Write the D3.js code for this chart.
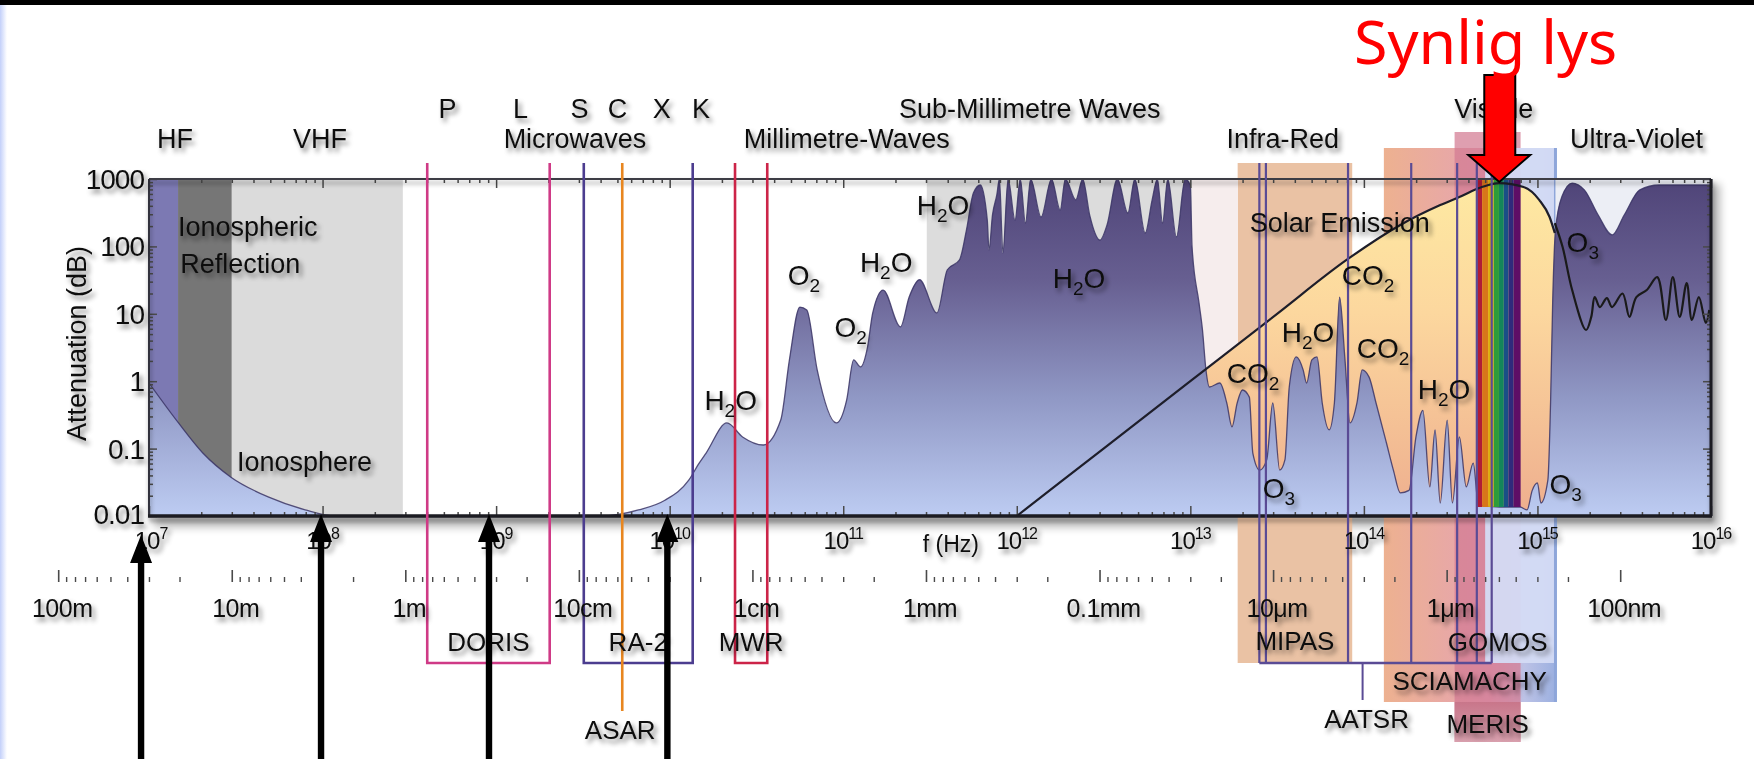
<!DOCTYPE html>
<html>
<head>
<meta charset="utf-8">
<title>Atmospheric attenuation across the electromagnetic spectrum</title>
<script src="https://cdn.jsdelivr.net/npm/d3@7/dist/d3.min.js"></script>
<style>
  html, body { margin: 0; padding: 0; background: #ffffff; }
  svg { display: block; font-family: "Liberation Sans", Arial, sans-serif; }
</style>
</head>
<body>
<svg id="chart" width="1754" height="759"></svg>
<script>
// ---------------------------------------------------------------------------
// Data
// ---------------------------------------------------------------------------
const LIGHT_SPEED = 299792458;

const freqExponents = [7, 8, 9, 10, 11, 12, 13, 14, 15, 16];
const attenuationTicks = [1000, 100, 10, 1, 0.1, 0.01];
const attenuationTickLabels = ["1000", "100", "10", "1", "0.1", "0.01"];
const wavelengthTicksM = [100, 10, 1, 0.1, 0.01, 0.001, 1e-4, 1e-5, 1e-6, 1e-7];
const wavelengthTickLabels = ["100m", "10m", "1m", "10cm", "1cm", "1mm", "0.1mm", "10\u03bcm", "1\u03bcm", "100nm"];

// Zenith attenuation of the atmosphere: [log10(f / Hz), attenuation in dB]
const atmosphericAttenuation = [
  [7.00, 0.94], [7.17, 0.24], [7.31, 0.086], [7.47, 0.038], [7.69, 0.019], [7.90, 0.0123], [8.07, 0.01],
  [9.60, 0.01], [9.82, 0.0123], [9.97, 0.017], [10.11, 0.034], [10.17, 0.061], [10.21, 0.086],
  [10.33, 0.24], [10.42, 0.149], [10.54, 0.113], [10.64, 0.265], [10.69, 2.07], [10.75, 12.6],
  [10.79, 11.4], [10.85, 1.47], [10.96, 0.24], [11.02, 0.53], [11.06, 2.07], [11.10, 1.63],
  [11.14, 3.2], [11.17, 10.3], [11.23, 22.5], [11.33, 6.4], [11.38, 17.7], [11.44, 32],
  [11.54, 10.3], [11.60, 45], [11.67, 63], [11.71, 175], [11.75, 620], [11.79, 815], [11.83, 246],
  [11.84, 89], [11.86, 292], [11.885, 580], [11.90, 1000],
  [11.92, 80], [11.95, 1000], [11.99, 246], [12.02, 1000], [12.05, 222], [12.08, 1000],
  [12.14, 273], [12.20, 1000], [12.25, 347], [12.28, 1000], [12.34, 490], [12.38, 1000],
  [12.42, 292], [12.48, 124], [12.52, 208], [12.58, 1000], [12.64, 313], [12.68, 1000],
  [12.74, 158], [12.78, 490], [12.81, 1000], [12.84, 222], [12.87, 1000], [12.92, 138],
  [12.97, 1000], [13.00, 815], [13.01, 98], [13.05, 14.5], [13.07, 5.75], [13.09, 1.47],
  [13.11, 0.82], [13.17, 0.94], [13.21, 0.475], [13.24, 0.21], [13.27, 0.475], [13.30, 0.74],
  [13.34, 0.58], [13.36, 0.086], [13.40, 0.048], [13.44, 0.068], [13.475, 0.475], [13.515, 0.048],
  [13.545, 0.068], [13.57, 0.82], [13.61, 2.29], [13.65, 1.47], [13.67, 0.94], [13.70, 2.07],
  [13.73, 2.29], [13.76, 0.475], [13.80, 0.19], [13.83, 0.475], [13.86, 17.7], [13.89, 2.29],
  [13.92, 0.24], [13.96, 0.475], [13.99, 1.47], [14.03, 1.15], [14.07, 0.475], [14.13, 0.121],
  [14.17, 0.048], [14.21, 0.022], [14.26, 0.024], [14.30, 0.149], [14.34, 0.37], [14.38, 0.027],
  [14.41, 0.19], [14.44, 0.0156], [14.48, 0.265], [14.51, 0.0156], [14.55, 0.149], [14.59, 0.027],
  [14.63, 0.061], [14.66, 0.0146], [14.78, 0.0136], [14.90, 0.0136], [14.94, 0.0123], [14.97, 0.024],
  [15.00, 0.031], [15.02, 0.0156], [15.06, 0.034], [15.076, 0.53], [15.088, 16], [15.104, 175],
  [15.14, 540], [15.20, 870], [15.27, 690], [15.35, 292], [15.43, 148], [15.50, 292],
  [15.59, 690], [15.70, 815], [16.00, 815]
];

// Solar emission curve on the same axes: [log10(f / Hz), level]
const solarEmission = [
  [12.0, 0.01], [12.5, 0.1], [13.0, 1.0], [13.5, 10], [13.9, 63], [14.21, 208], [14.44, 410],
  [14.55, 540], [14.68, 760], [14.78, 870], [14.92, 760], [15.01, 490], [15.07, 273], [15.10, 158]
];

// Ultra-violet transmission trace: [log10(f / Hz), level]
const uvTransmission = [
  [15.10, 222], [15.145, 98], [15.20, 22.5], [15.28, 5.75], [15.31, 9.0], [15.33, 17.7],
  [15.36, 12.6], [15.40, 17.1], [15.43, 12.6], [15.49, 20], [15.53, 9.0], [15.57, 17.7],
  [15.63, 22.5], [15.69, 35], [15.74, 8.1], [15.78, 35], [15.82, 9.0], [15.86, 28.6],
  [15.89, 8.1], [15.93, 17.7], [15.97, 7.3], [15.99, 11.4]
];

// Shaded frequency ranges behind the curve: [from Hz, to Hz, colour]
const ionosphereBands = [
  [1e7, 1.47e7, "#7c79b3"],
  [1.47e7, 3e7, "#767676"],
  [3e7, 2.9e8, "#dbdbdb"]
];
const submillimetreShadeHz = [3.03e11, 1.02e13];
const infraredGapShadeHz = [1.02e13, 1.88e13];
const ultravioletShadeHz = [1.27e15, 1e16];

// Visible spectrum stripes
const visibleEdgesHz = [4.5e14, 4.8e14, 5.2e14, 5.6e14, 6.0e14, 6.4e14, 6.8e14, 7.3e14, 8.0e14];
const visibleColors = ["#b01c36", "#d8761a", "#dcae0a", "#2e9c3a", "#14865a", "#1a4f86", "#2f2a7c", "#5e0e66"];

// Band names above the plot: [text, log10(f / Hz) of label centre, row]
const bandLabels = [
  ["P", 8.72, 0], ["L", 9.14, 0], ["S", 9.48, 0], ["C", 9.70, 0], ["X", 9.955, 0], ["K", 10.18, 0],
  ["Sub-Millimetre Waves", 12.075, 0], ["Visible", 14.748, 0],
  ["HF", 7.15, 1], ["VHF", 7.985, 1], ["Microwaves", 9.454, 1], ["Millimetre-Waves", 11.02, 1],
  ["Infra-Red", 13.532, 1], ["Ultra-Violet", 15.571, 1]
];

// Absorbing gases: [formula, log10(f / Hz) of left edge, level at baseline]
const gasLabels = [
  ["H2O", 10.20, 0.37], ["O2", 10.68, 26.7], ["O2", 10.95, 4.5], ["H2O", 11.096, 41.7],
  ["H2O", 11.424, 292], ["H2O", 12.207, 24.2], ["CO2", 13.21, 0.94], ["H2O", 13.527, 3.8],
  ["CO2", 13.872, 26.7], ["CO2", 13.959, 2.2], ["H2O", 14.31, 0.54], ["O3", 13.417, 0.0185],
  ["O3", 15.07, 0.021], ["O3", 15.168, 82.6]
];

// Region names inside the plot: [text, log10(f / Hz) of left edge, level at baseline]
const regionLabels = [
  ["Ionospheric", 7.167, 143], ["Reflection", 7.18, 40], ["Ionosphere", 7.507, 0.047],
  ["Solar Emission", 13.342, 164]
];

// Envisat instruments
const radarInstruments = [
  { name: "DORIS", lowHz: 4.01e8, highHz: 2.036e9, color: "#cf3a86" },
  { name: "RA-2", lowHz: 3.2e9, highHz: 1.3575e10, color: "#4c3d8f" },
  { name: "MWR", lowHz: 2.38e10, highHz: 3.65e10, color: "#cc2448" }
];
const asarHz = 5.331e9;
const aatsrChannelsUm = [12, 11, 3.7, 1.6, 0.87, 0.67, 0.55];
const aatsrLabelUm = 3.05;
const opticalInstruments = [
  { name: "MIPAS", longUm: 16, shortUm: 3.5 },
  { name: "SCIAMACHY", longUm: 2.3, shortUm: 0.236 },
  { name: "MERIS", longUm: 0.9, shortUm: 0.375 },
  { name: "GOMOS", longUm: 0.6, shortUm: 0.236 }
];

// Frequencies marked with upward arrows below the axes
const pointerHz = [9.0e6, 9.8e7, 9.1e8, 9.7e9];
const visiblePeakHz = 10 ** 14.78;

// ---------------------------------------------------------------------------
// Layout
// ---------------------------------------------------------------------------
const P = { left: 149, right: 1711, top: 179, bottom: 516 };
const BAND_ROW_Y = [118, 148];
const WAVE_AXIS_Y = 582;
const BOX_LAYOUT = {
  MIPAS:     { top: 163, bottom: 663, labelY: 650, fill: "#e9bf9f", opacity: 0.95 },
  SCIAMACHY: { top: 148, bottom: 702, labelY: 690, fill: "url(#sciaGrad)", opacity: 1 },
  MERIS:     { top: 132, bottom: 742, labelY: 733, fill: "#d27a92", opacity: 0.72 },
  GOMOS:     { top: 148, bottom: 663, labelY: 651, fill: "#d4dbf4", opacity: 0.95 }
};
const POINTER_TIPS = [535, 514, 514, 514];
const FONT = "'Liberation Sans', Arial, sans-serif";

const x = d3.scaleLog().domain([1e7, 1e16]).range([P.left, P.right]);
const y = d3.scaleLog().domain([0.01, 1000]).range([P.bottom, P.top]).clamp(true);
const umToHz = um => LIGHT_SPEED / (um * 1e-6);
const lx = d => x(10 ** d[0]);
const ly = d => y(d[1]);

const svg = d3.select("#chart");
const defs = svg.append("defs");

// ---------------------------------------------------------------------------
// Gradients, filters, clip
// ---------------------------------------------------------------------------
function vGrad(id, y1, y2, stops) {
  const g = defs.append("linearGradient").attr("id", id)
    .attr("gradientUnits", "userSpaceOnUse").attr("x1", 0).attr("x2", 0).attr("y1", y1).attr("y2", y2);
  stops.forEach(([o, c]) => g.append("stop").attr("offset", o).attr("stop-color", c));
}
function hGrad(id, x1, x2, stops) {
  const g = defs.append("linearGradient").attr("id", id)
    .attr("gradientUnits", "userSpaceOnUse").attr("x1", x1).attr("x2", x2).attr("y1", 0).attr("y2", 0);
  stops.forEach(([o, c]) => g.append("stop").attr("offset", o).attr("stop-color", c));
}
vGrad("attGrad", P.top, P.bottom, [[0, "#4f4478"], [0.3, "#675f91"], [0.65, "#9098c5"], [1, "#bdccf2"]]);
vGrad("solarGrad", P.top, P.bottom, [[0, "#feeaa2"], [0.4, "#fcd79e"], [1, "#eeae8e"]]);
hGrad("sciaGrad", x(umToHz(2.3)), x(umToHz(0.236)),
  [[0, "#edb190"], [0.4, "#e8a8a6"], [0.62, "#e2a6bc"], [0.82, "#bcc2e6"], [1, "#9cb0e0"]]);
hGrad("edgeGrad", 0, 7, [[0, "#c3d0fa"], [1, "#ffffff"]]);
vGrad("merisFade", 702, 742, [[0, "#c8768a"], [1, "#d9a0ae"]]);

function shadowFilter(id, blur, dx, dy, opacity) {
  const f = defs.append("filter").attr("id", id)
    .attr("x", "-10%").attr("y", "-30%").attr("width", "130%").attr("height", "180%");
  f.append("feGaussianBlur").attr("in", "SourceAlpha").attr("stdDeviation", blur).attr("result", "blur");
  f.append("feOffset").attr("in", "blur").attr("dx", dx).attr("dy", dy).attr("result", "off");
  f.append("feFlood").attr("flood-color", "#000").attr("flood-opacity", opacity).attr("result", "col");
  f.append("feComposite").attr("in", "col").attr("in2", "off").attr("operator", "in").attr("result", "sh");
  const m = f.append("feMerge");
  m.append("feMergeNode").attr("in", "sh");
  m.append("feMergeNode").attr("in", "SourceGraphic");
}
shadowFilter("soft", 2.6, 3, 4, 0.5);
shadowFilter("lineShadow", 2, 1, 4, 0.35);
defs.append("filter").attr("id", "blurBox").attr("x", "-5%").attr("y", "-10%").attr("width", "110%").attr("height", "120%")
  .append("feGaussianBlur").attr("stdDeviation", 4);

defs.append("clipPath").attr("id", "plotClip").append("rect")
  .attr("x", P.left).attr("y", P.top).attr("width", P.right - P.left).attr("height", P.bottom - P.top);

// ---------------------------------------------------------------------------
// Page furniture
// ---------------------------------------------------------------------------
svg.append("rect").attr("x", 0).attr("y", 0).attr("width", 1754).attr("height", 759).attr("fill", "#ffffff");
svg.append("rect").attr("x", 0).attr("y", 5).attr("width", 7).attr("height", 754).attr("fill", "url(#edgeGrad)");
svg.append("rect").attr("x", 0).attr("y", 0).attr("width", 1754).attr("height", 5).attr("fill", "#000000");

// Plot drop shadow
svg.append("rect").attr("x", P.left + 5).attr("y", P.top + 5)
  .attr("width", P.right - P.left + 4).attr("height", P.bottom - P.top + 6)
  .attr("fill", "#000").attr("opacity", 0.28).attr("filter", "url(#blurBox)");
svg.append("rect").attr("x", P.left).attr("y", P.top)
  .attr("width", P.right - P.left).attr("height", P.bottom - P.top).attr("fill", "#ffffff");

// ---------------------------------------------------------------------------
// Optical instrument boxes (behind the curves)
// ---------------------------------------------------------------------------
const boxG = svg.append("g");
opticalInstruments.forEach(inst => {
  const L = BOX_LAYOUT[inst.name];
  const x0 = x(umToHz(inst.longUm)), x1 = x(umToHz(inst.shortUm));
  boxG.append("rect").attr("x", x0).attr("y", L.top).attr("width", x1 - x0).attr("height", L.bottom - L.top)
    .attr("fill", L.fill).attr("opacity", L.opacity);
  if (inst.name === "MERIS") {
    boxG.append("rect").attr("x", x0).attr("y", 702).attr("width", x1 - x0).attr("height", 40)
      .attr("fill", "url(#merisFade)");
  }
});
{
  const xr = x(umToHz(0.236));
  boxG.append("line").attr("x1", xr).attr("x2", xr).attr("y1", 148).attr("y2", 702)
    .attr("stroke", "#8ea6da").attr("stroke-width", 3);
}

// ---------------------------------------------------------------------------
// Plot interior
// ---------------------------------------------------------------------------
const plot = svg.append("g").attr("clip-path", "url(#plotClip)");

ionosphereBands.forEach(([a, b, c]) => {
  plot.append("rect").attr("x", x(a)).attr("y", P.top).attr("width", x(b) - x(a))
    .attr("height", P.bottom - P.top).attr("fill", c);
});
[[submillimetreShadeHz, "#dcdcdc"], [infraredGapShadeHz, "#f6eded"], [ultravioletShadeHz, "#eceef5"]]
  .forEach(([[a, b], c]) => {
    plot.append("rect").attr("x", x(a)).attr("y", P.top).attr("width", x(b) - x(a))
      .attr("height", P.bottom - P.top).attr("fill", c);
  });

const solarArea = d3.area().x(lx).y0(P.bottom).y1(ly).curve(d3.curveMonotoneX);
const attArea = d3.area().x(lx).y0(P.bottom).y1(ly).curve(d3.curveMonotoneX);
const smoothLine = d3.line().x(lx).y(ly).curve(d3.curveMonotoneX);

plot.append("path").datum(solarEmission).attr("d", solarArea).attr("fill", "url(#solarGrad)");
plot.append("path").datum(atmosphericAttenuation).attr("d", attArea).attr("fill", "url(#attGrad)");
plot.append("path").datum(atmosphericAttenuation).attr("d", smoothLine)
  .attr("fill", "none").attr("stroke", "#3b3566").attr("stroke-width", 1.3).attr("stroke-opacity", 0.85);

// Visible spectrum
visibleColors.forEach((c, i) => {
  const a = x(visibleEdgesHz[i]), b = x(visibleEdgesHz[i + 1]);
  plot.append("rect").attr("x", a).attr("y", P.top).attr("width", b - a)
    .attr("height", y(0.0136) - P.top).attr("fill", c);
});

plot.append("path").datum(solarEmission).attr("d", smoothLine)
  .attr("fill", "none").attr("stroke", "#1e1e2a").attr("stroke-width", 2.2);
plot.append("path").datum(uvTransmission)
  .attr("d", d3.line().x(lx).y(ly).curve(d3.curveCatmullRom.alpha(0.5)))
  .attr("fill", "none").attr("stroke", "#1a1a1a").attr("stroke-width", 2.2);

// ---------------------------------------------------------------------------
// Frame and ticks
// ---------------------------------------------------------------------------
const majorHz = freqExponents.map(e => 10 ** e);
const minorHz = [];
freqExponents.slice(0, -1).forEach(e => { for (let m = 2; m <= 9; m++) minorHz.push(m * 10 ** e); });
const minorDb = [];
[-2, -1, 0, 1, 2].forEach(e => { for (let m = 2; m <= 9; m++) minorDb.push(m * 10 ** e); });

function tickAxis(axis, values, size, transform, width) {
  const g = svg.append("g").attr("transform", transform)
    .call(axis.tickValues(values).tickSize(size).tickFormat(""));
  g.select(".domain").remove();
  g.selectAll("line").attr("stroke", "#4a4a4a").attr("stroke-width", width || 1.5);
  return g;
}
tickAxis(d3.axisBottom(x), majorHz, 9, `translate(0,${P.top})`);
tickAxis(d3.axisBottom(x), minorHz, 4, `translate(0,${P.top})`);
tickAxis(d3.axisTop(x), majorHz, 10, `translate(0,${P.bottom})`);
tickAxis(d3.axisTop(x), minorHz, 4, `translate(0,${P.bottom})`);
tickAxis(d3.axisRight(y), attenuationTicks, 8, `translate(${P.left},0)`);
tickAxis(d3.axisRight(y), minorDb, 4, `translate(${P.left},0)`);
tickAxis(d3.axisLeft(y), attenuationTicks, 8, `translate(${P.right},0)`);
tickAxis(d3.axisLeft(y), minorDb, 4, `translate(${P.right},0)`);

const frame = svg.append("g").attr("filter", "url(#lineShadow)");
frame.append("line").attr("x1", P.left).attr("x2", P.right).attr("y1", P.top).attr("y2", P.top)
  .attr("stroke", "#3d3d45").attr("stroke-width", 2);
frame.append("line").attr("x1", P.left).attr("x2", P.left).attr("y1", P.top).attr("y2", P.bottom)
  .attr("stroke", "#33333d").attr("stroke-width", 2);
frame.append("line").attr("x1", P.left - 1).attr("x2", P.right + 1).attr("y1", P.bottom).attr("y2", P.bottom)
  .attr("stroke", "#1c1c22").attr("stroke-width", 3.5);
frame.append("line").attr("x1", P.right).attr("x2", P.right).attr("y1", P.top).attr("y2", P.bottom)
  .attr("stroke", "#1c1c22").attr("stroke-width", 3);

// ---------------------------------------------------------------------------
// Wavelength axis
// ---------------------------------------------------------------------------
const lamMajorHz = wavelengthTicksM.map(l => LIGHT_SPEED / l);
const lamMinorHz = [];
wavelengthTicksM.slice(0, -1).forEach(l => {
  for (let m = 2; m <= 9; m++) lamMinorHz.push(LIGHT_SPEED / ((l / 10) * m));
});
const waveG = svg.append("g").attr("filter", "url(#lineShadow)");
waveG.append("line")
  .attr("x1", x(lamMajorHz[0])).attr("x2", x(lamMajorHz[lamMajorHz.length - 1]))
  .attr("y1", WAVE_AXIS_Y).attr("y2", WAVE_AXIS_Y).attr("stroke", "#303038").attr("stroke-width", 2.5);
tickAxis(d3.axisTop(x), lamMajorHz, 12, `translate(0,${WAVE_AXIS_Y})`, 1.6);
tickAxis(d3.axisTop(x), lamMinorHz, 5, `translate(0,${WAVE_AXIS_Y})`, 1.4);

// ---------------------------------------------------------------------------
// Radar / microwave instruments and AATSR channels (drawn over the curves)
// ---------------------------------------------------------------------------
const instG = svg.append("g");
radarInstruments.forEach(inst => {
  const a = x(inst.lowHz), b = x(inst.highHz);
  instG.append("path")
    .attr("d", `M${a},163 V663 H${b} V163`)
    .attr("fill", "none").attr("stroke", inst.color).attr("stroke-width", 2.6);
});
instG.append("line").attr("x1", x(asarHz)).attr("x2", x(asarHz)).attr("y1", 163).attr("y2", 711)
  .attr("stroke", "#e8861f").attr("stroke-width", 2.6);

const aatsrX = aatsrChannelsUm.map(um => x(umToHz(um)));
aatsrX.forEach(ax => {
  instG.append("line").attr("x1", ax).attr("x2", ax).attr("y1", 163).attr("y2", 663)
    .attr("stroke", "#5a4b95").attr("stroke-width", 2.2);
});
instG.append("line").attr("x1", d3.min(aatsrX)).attr("x2", d3.max(aatsrX)).attr("y1", 663).attr("y2", 663)
  .attr("stroke", "#5a4b95").attr("stroke-width", 2.4);
instG.append("line").attr("x1", x(umToHz(aatsrLabelUm))).attr("x2", x(umToHz(aatsrLabelUm)))
  .attr("y1", 663).attr("y2", 700).attr("stroke", "#5a4b95").attr("stroke-width", 2);

// ---------------------------------------------------------------------------
// Text
// ---------------------------------------------------------------------------
const text = svg.append("g").attr("font-family", FONT).attr("fill", "#111").attr("filter", "url(#soft)");

// Attenuation axis
attenuationTicks.forEach((v, i) => {
  text.append("text").attr("x", 144).attr("y", y(v) - (v === 0.01 ? 2 : 0)).attr("dy", "0.36em")
    .attr("text-anchor", "end").attr("font-size", 28).attr("letter-spacing", -1)
    .text(attenuationTickLabels[i]);
});
text.append("text").attr("transform", `translate(86,${(P.top + P.bottom) / 2 - 4}) rotate(-90)`)
  .attr("text-anchor", "middle").attr("font-size", 27).text("Attenuation (dB)");

// Frequency axis
freqExponents.forEach(e => {
  const t = text.append("text").attr("x", x(10 ** e) + (e === 7 ? 2 : 0)).attr("y", 549)
    .attr("text-anchor", "middle").attr("font-size", 24).attr("letter-spacing", -1);
  t.append("tspan").text("10");
  t.append("tspan").attr("font-size", 16).attr("dy", -10).text(e);
});
text.append("text").attr("x", x(10 ** 11.62)).attr("y", 552).attr("text-anchor", "middle")
  .attr("font-size", 23).text("f (Hz)");

// Wavelength axis
wavelengthTickLabels.forEach((s, i) => {
  text.append("text").attr("x", x(lamMajorHz[i]) + 4).attr("y", 617).attr("text-anchor", "middle")
    .attr("font-size", 25).attr("letter-spacing", -0.5).text(s);
});

// Band names
bandLabels.forEach(([s, lf, row]) => {
  text.append("text").attr("x", x(10 ** lf)).attr("y", BAND_ROW_Y[row]).attr("text-anchor", "middle")
    .attr("font-size", 27).text(s);
});

// Region names
regionLabels.forEach(([s, lf, v]) => {
  text.append("text").attr("x", x(10 ** lf)).attr("y", y(v)).attr("font-size", 27).text(s);
});

// Gas formulas with subscripts
function addFormula(t, formula) {
  let lowered = false;
  for (const ch of formula) {
    const digit = /\d/.test(ch);
    const ts = t.append("tspan").text(ch);
    if (digit) {
      ts.attr("font-size", 19);
      if (!lowered) { ts.attr("dy", 7); lowered = true; }
    } else if (lowered) {
      ts.attr("dy", -7); lowered = false;
    }
  }
}
gasLabels.forEach(([f, lf, v]) => {
  const t = text.append("text").attr("x", x(10 ** lf)).attr("y", y(v)).attr("font-size", 28);
  addFormula(t, f);
});

// Instrument names
radarInstruments.forEach(inst => {
  text.append("text").attr("x", (x(inst.lowHz) + x(inst.highHz)) / 2).attr("y", 651)
    .attr("text-anchor", "middle").attr("font-size", 26).text(inst.name);
});
text.append("text").attr("x", x(asarHz) - 2).attr("y", 739).attr("text-anchor", "middle")
  .attr("font-size", 26).text("ASAR");
text.append("text").attr("x", x(umToHz(aatsrLabelUm)) + 4).attr("y", 728).attr("text-anchor", "middle")
  .attr("font-size", 26).text("AATSR");
opticalInstruments.forEach(inst => {
  const L = BOX_LAYOUT[inst.name];
  const x0 = x(umToHz(inst.longUm)), x1 = x(umToHz(inst.shortUm));
  const t = text.append("text").attr("y", L.labelY).attr("font-size", 26).text(inst.name);
  if (inst.name === "GOMOS") t.attr("x", x1 - 8).attr("text-anchor", "end");
  else t.attr("x", (x0 + x1) / 2).attr("text-anchor", "middle");
});

// ---------------------------------------------------------------------------
// Pointer arrows
// ---------------------------------------------------------------------------
const arrows = svg.append("g");
pointerHz.forEach((hz, i) => {
  const cx = x(hz), tip = POINTER_TIPS[i];
  const headH = 28, headW = 11, shaft = 3.2;
  arrows.append("path")
    .attr("d", `M${cx},${tip} L${cx + headW},${tip + headH} L${cx + shaft},${tip + headH} L${cx + shaft},759 ` +
               `L${cx - shaft},759 L${cx - shaft},${tip + headH} L${cx - headW},${tip + headH} Z`)
    .attr("fill", "#000");
});

// Visible light call-out
{
  const cx = x(visiblePeakHz);
  svg.append("path")
    .attr("d", `M${cx - 15},75 H${cx + 16} V155 H${cx + 31} L${cx},182 L${cx - 31},155 H${cx - 15} Z`)
    .attr("fill", "#ff0000").attr("stroke", "#000").attr("stroke-width", 2).attr("stroke-linejoin", "miter");
  svg.append("text").attr("x", 1354).attr("y", 64)
    .attr("font-family", "'Noto Sans', 'DejaVu Sans', sans-serif").attr("font-size", 61)
    .attr("fill", "#ff0000").text("Synlig lys");
}
</script>
</body>
</html>
